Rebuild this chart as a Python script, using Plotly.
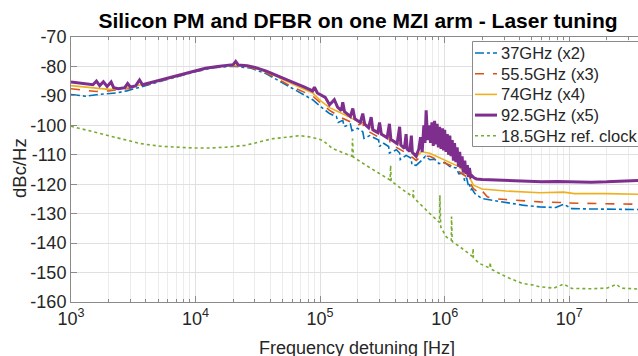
import plotly.graph_objects as go

# ---------------- data ----------------
f_37 = [1.0e3, 1.3e3, 1.6e3, 2.0e3, 2.3e3, 2.8e3, 3.5e3, 4.5e3, 6.2e3, 9.5e3, 1.4e4, 2.0e4, 2.8e4, 3.7e4,
        6.0e4, 8.7e4, 1.0e5, 1.1e5, 1.19e5, 1.35e5, 1.4e5, 1.52e5, 1.56e5, 1.75e5, 1.8e5, 2.0e5, 2.2e5, 2.25e5,
        2.5e5, 2.95e5, 3.0e5, 3.2e5, 3.55e5, 3.6e5, 4.1e5, 4.35e5, 4.4e5, 4.9e5, 5.4e5, 5.45e5, 5.9e5, 6.5e5,
        7.0e5, 7.6e5, 8.3e5, 9.0e5, 1.0e6, 1.1e6, 1.24e6, 1.3e6, 1.4e6, 1.45e6, 1.5e6, 1.55e6, 1.58e6, 1.62e6,
        1.65e6, 1.75e6, 2.0e6, 2.46e6, 3.1e6, 4.2e6, 5.8e6, 7.8e6, 9.0e6, 1.05e7, 1.5e7, 2.0e7, 2.8e7, 3.6e7]
v_37 = [-89.5, -90.1, -89.6, -89.2, -89.0, -88.3, -87.2, -85.9, -84.2, -82.0, -80.4, -79.9, -80.6, -82.5,
        -87.5, -91.3, -93.5, -94.8, -96.0, -97.0, -99.0, -98.3, -100.4, -99.6, -101.8, -101.0, -102.2, -104.4,
        -103.5, -105.0, -107.2, -106.0, -107.2, -109.4, -108.3, -109.4, -111.6, -110.2, -111.2, -113.4, -113.6, -112.0,
        -110.5, -111.7, -111.5, -113.0, -112.6, -114.0, -114.5, -116.5, -116.3, -119.0, -117.8, -120.5, -119.8, -122.0,
        -121.5, -123.2, -124.9, -125.5, -126.3, -127.1, -127.7, -127.9, -126.8, -128.3, -128.4, -128.4, -128.5, -128.6]

f_55 = [1.0e3, 1.3e3, 1.6e3, 2.0e3, 2.3e3, 2.8e3, 3.5e3, 4.5e3, 6.2e3, 9.5e3, 1.4e4, 2.0e4, 2.8e4, 3.7e4,
        6.0e4, 8.7e4, 1.0e5, 1.19e5, 1.5e5, 2.0e5, 2.2e5, 2.25e5, 2.5e5, 3.0e5, 3.6e5, 3.65e5, 4.1e5, 5.2e5,
        5.9e5, 6.5e5, 7.6e5, 9.0e5, 1.1e6, 1.3e6, 1.5e6, 1.6e6, 1.7e6, 2.0e6, 2.05e6, 2.2e6, 2.46e6, 3.1e6,
        4.2e6, 5.8e6, 8.5e6, 9.0e6, 1.0e7, 2.0e7, 3.6e7]
v_55 = [-87.6, -88.2, -88.5, -88.3, -88.1, -87.6, -86.7, -85.7, -84.0, -81.8, -80.2, -79.7, -80.4, -82.2,
        -87.0, -90.0, -92.3, -94.9, -97.5, -100.0, -99.0, -101.2, -102.3, -104.2, -104.0, -106.8, -107.5, -110.0,
        -111.9, -110.5, -110.5, -112.0, -113.5, -115.5, -117.5, -119.5, -121.5, -123.7, -122.8, -124.3, -124.9, -125.2,
        -125.7, -126.0, -126.2, -125.7, -126.4, -126.6, -126.8]

f_74 = [1.0e3, 1.3e3, 1.6e3, 2.0e3, 2.3e3, 2.8e3, 3.5e3, 4.5e3, 6.2e3, 9.5e3, 1.4e4, 2.0e4, 2.8e4, 3.7e4,
        6.0e4, 8.7e4, 1.0e5, 1.19e5, 1.5e5, 2.0e5, 2.5e5, 3.2e5, 4.1e5, 5.2e5, 5.9e5, 6.5e5, 7.6e5, 9.0e5,
        1.1e6, 1.3e6, 1.5e6, 1.6e6, 1.7e6, 2.0e6, 3.1e6, 5.8e6, 9.0e6, 1.1e7, 2.0e7, 3.6e7]
v_74 = [-86.5, -87.0, -87.4, -87.8, -87.7, -87.3, -86.4, -85.5, -84.0, -81.8, -80.2, -79.6, -80.2, -81.8,
        -86.0, -89.0, -91.5, -94.0, -96.0, -98.5, -100.6, -103.0, -105.8, -108.3, -110.7, -109.0, -109.5, -111.0,
        -112.5, -114.0, -116.5, -118.0, -120.3, -121.6, -122.3, -122.9, -122.7, -123.2, -123.2, -123.4]

f_92 = [1.0e3, 1.15e3, 1.32e3, 1.5e3, 1.6e3, 1.7e3, 1.82e3, 1.95e3, 2.1e3, 2.2e3, 2.4e3, 2.7e3, 2.85e3,
        3.0e3, 3.3e3, 3.55e3, 3.75e3, 4.5e3, 5.2e3, 6.2e3, 7.5e3, 9.5e3, 1.2e4, 1.5e4, 1.8e4, 2.0e4, 2.1e4,
        2.2e4, 2.6e4, 3.0e4, 3.7e4, 4.5e4, 6.0e4, 7.5e4, 8.7e4, 9.0e4, 9.5e4, 1.1e5, 1.19e5, 1.3e5, 1.38e5,
        1.48e5, 1.52e5, 1.57e5, 1.75e5, 1.83e5, 1.9e5, 2.1e5, 2.2e5, 2.28e5, 2.45e5, 2.57e5, 2.65e5, 2.9e5,
        3.0e5, 3.1e5, 3.45e5, 3.6e5, 3.7e5, 4.15e5, 4.35e5, 4.45e5, 4.75e5, 4.9e5, 5.0e5, 5.25e5, 5.4e5, 5.5e5,
        5.9e5, 6.2e5, 6.4e5, 6.6e5, 6.8e5, 6.95e5, 7.1e5, 7.3e5, 7.5e5, 7.7e5, 7.9e5, 8.1e5, 8.3e5, 8.5e5,
        8.7e5, 8.9e5, 9.1e5, 9.35e5, 9.6e5, 9.8e5, 1.0e6, 1.025e6, 1.05e6, 1.075e6, 1.1e6, 1.125e6, 1.15e6,
        1.175e6, 1.2e6, 1.23e6, 1.26e6, 1.29e6, 1.32e6, 1.35e6, 1.38e6, 1.41e6, 1.45e6, 1.48e6, 1.52e6, 1.55e6,
        1.58e6, 1.62e6, 1.66e6, 1.72e6, 1.8e6, 2.0e6, 2.5e6, 3.2e6, 4.5e6, 6.0e6, 8.0e6, 1.0e7, 1.5e7, 2.0e7,
        2.8e7, 3.6e7]
v_92 = [-85.3, -85.6, -85.9, -86.2, -85.0, -86.5, -85.2, -86.8, -85.3, -87.2, -87.6, -87.2, -85.8,
        -87.0, -86.6, -84.6, -86.2, -85.3, -84.7, -83.8, -82.8, -81.6, -80.6, -80.0, -79.6, -79.4, -78.3,
        -79.5, -79.8, -80.3, -81.6, -83.0, -85.3, -87.0, -88.3, -87.0, -89.0, -90.5, -93.0, -91.3, -93.8,
        -95.0, -92.2, -95.4, -97.0, -94.3, -97.8, -99.0, -96.0, -99.6, -100.8, -97.2, -101.5, -102.5,
        -99.0, -103.0, -104.2, -99.5, -104.8, -106.2, -100.5, -106.7, -107.8, -103.0, -108.1, -108.8, -103.5, -109.2,
        -110.5, -108.0, -104.0, -109.0, -100.0, -106.0, -94.9, -105.0, -100.0, -106.0, -99.0, -107.0, -98.5, -106.5,
        -99.5, -107.5, -100.5, -108.0, -101.0, -108.5, -101.5, -109.0, -103.0, -110.0, -103.5, -110.5, -105.0,
        -112.0, -106.0, -112.5, -107.5, -114.0, -109.0, -114.5, -110.5, -116.0, -112.0, -116.5, -113.5, -117.5,
        -114.5, -117.5, -117.2, -117.8, -118.2, -118.4, -118.6, -118.8, -119.0, -119.2, -119.1, -119.2, -119.3, -119.2,
        -119.0, -118.7]

f_ref = [1.0e3, 1.3e3, 1.7e3, 2.2e3, 2.8e3, 3.6e3, 5.2e3, 7.0e3, 9.6e3, 1.3e4, 1.77e4, 2.5e4, 3.3e4, 4.2e4,
         5.0e4, 6.8e4, 8.5e4, 1.05e5, 1.26e5, 1.5e5, 1.8e5, 1.82e5, 1.85e5, 2.34e5, 3.0e5, 3.65e5, 3.68e5,
         3.72e5, 4.35e5, 5.56e5, 5.6e5, 5.65e5, 7.57e5, 8.5e5, 9.1e5, 9.15e5, 9.3e5, 1.03e6, 1.13e6, 1.135e6,
         1.15e6, 1.32e6, 1.5e6, 1.68e6, 1.69e6, 1.7e6, 1.9e6, 2.02e6, 2.3e6, 2.32e6, 2.35e6, 2.76e6, 3.1e6,
         4.2e6, 5.1e6, 5.76e6, 7.5e6, 9.0e6, 1.05e7, 1.5e7, 2.0e7, 2.4e7, 2.6e7, 3.6e7]
v_ref = [-100.3, -101.5, -102.8, -104.0, -105.0, -106.2, -107.1, -107.5, -107.7, -107.7, -107.4, -106.8, -105.7, -104.5,
         -104.2, -103.5, -104.0, -105.1, -107.9, -109.3, -110.5, -104.5, -110.8, -113.6, -116.5, -118.6, -113.6,
         -118.9, -121.1, -124.3, -122.0, -124.6, -129.9, -132.0, -133.0, -123.7, -134.5, -137.9, -139.0, -131.0,
         -139.5, -141.2, -143.0, -144.6, -141.8, -145.0, -146.9, -147.5, -148.5, -146.5, -148.8, -150.3, -151.4,
         -153.7, -154.2, -154.8, -155.3, -153.9, -155.4, -155.5, -155.3, -154.0, -155.3, -155.6]

names = ["37GHz (x2)", "55.5GHz (x3)", "74GHz (x4)", "92.5GHz (x5)", "18.5GHz ref. clock"]
colors = ["#0072BD", "#D95319", "#EDB120", "#7E2F8E", "#77AC30"]
dashes = ["dashdot", "dash", "solid", "solid", "dot"]
widths = [1.6, 1.6, 1.6, 3.0, 1.6]

y_tickvals = [-160, -150, -140, -130, -120, -110, -100, -90, -80, -70]
y_ticktext = ["-160", "-150", "-140", "-130", "-120", "-110", "-100", "-90", "-80", "-70"]
x_tickvals = [1e3, 1e4, 1e5, 1e6, 1e7]
x_ticktext = ["10<sup>3</sup>", "10<sup>4</sup>", "10<sup>5</sup>", "10<sup>6</sup>", "10<sup>7</sup>"]

title = "Silicon PM and DFBR on one MZI arm - Laser tuning"
xlabel = "Frequency detuning [Hz]"
ylabel = "dBc/Hz"

# ---------------- figure ----------------
FONT = "Liberation Sans, Arial, Helvetica, sans-serif"
W, H = 638, 356
L, R, T, B = 71, 0, 37, 54
PW, PH = W - L - R, H - T - B


def px(x):  # pixel x -> paper x
    return (x - L) / PW


def py(y):  # pixel y -> paper y
    return (H - B - y) / PH


fig = go.Figure()
series = [(f_37, v_37), (f_55, v_55), (f_74, v_74), (f_92, v_92), (f_ref, v_ref)]
for (fx, vy), nm, c, d, w in zip(series, names, colors, dashes, widths):
    fig.add_trace(go.Scatter(x=fx, y=vy, mode="lines", name=nm, showlegend=False,
                             line=dict(color=c, dash=d, width=w)))

axis_col = "#8a8a8a"
fig.update_layout(
    width=W, height=H,
    margin=dict(l=L, r=R, t=T, b=B),
    paper_bgcolor="white", plot_bgcolor="white",
    font=dict(family=FONT, size=18, color="#262626"),
    title=dict(text=title, x=358 / W, xref="container", xanchor="center",
               y=1 - 21 / H, yref="container", yanchor="middle",
               font=dict(family=FONT, size=21, color="black", weight="bold")),
    showlegend=False,
)
fig.update_xaxes(type="log", range=[3, 7.552],
                 tickmode="array", tickvals=x_tickvals, ticktext=x_ticktext,
                 ticks="inside", ticklen=6, tickcolor=axis_col,
                 showline=True, linecolor=axis_col, linewidth=1, mirror="ticks",
                 showgrid=True, gridcolor="#e0e0e0", gridwidth=1,
                 minor=dict(dtick="D1", showgrid=True, gridcolor="#ececec",
                            ticks="inside", ticklen=3, tickcolor=axis_col),
                 zeroline=False, tickfont=dict(size=18))
fig.update_yaxes(range=[-160, -70], tickmode="array", tickvals=y_tickvals, ticktext=y_ticktext,
                 ticks="inside", ticklen=6, tickcolor=axis_col,
                 showline=True, linecolor=axis_col, linewidth=1,
                 showgrid=True, gridcolor="#e0e0e0", gridwidth=1,
                 zeroline=False, tickfont=dict(size=18))

# axis titles
fig.add_annotation(text=ylabel, xref="paper", yref="paper",
                   x=px(19), y=py(168), textangle=-90,
                   showarrow=False, xanchor="center", yanchor="middle",
                   font=dict(family=FONT, size=18.5, color="#262626"))
fig.add_annotation(text=xlabel, xref="paper", yref="paper",
                   x=px(357), y=py(347.5),
                   showarrow=False, xanchor="center", yanchor="middle",
                   font=dict(family=FONT, size=18, color="#262626"))

# legend box (right part falls outside the picture, as in the reference)
fig.add_shape(type="rect", xref="paper", yref="paper", layer="above",
              x0=px(472.5), x1=px(660), y0=py(146.5), y1=py(41.5),
              line=dict(color="#8a8a8a", width=1), fillcolor="white")
leg_y = [53.0, 73.7, 94.4, 115.1, 135.8]
for i, (nm, c, d, w) in enumerate(zip(names, colors, dashes, widths)):
    fig.add_shape(type="line", xref="paper", yref="paper", layer="above",
                  x0=px(475), x1=px(497), y0=py(leg_y[i]), y1=py(leg_y[i]),
                  line=dict(color=c, dash=d, width=w))
    fig.add_annotation(text=nm, xref="paper", yref="paper", x=px(499), y=py(leg_y[i]),
                       xanchor="left", yanchor="middle", showarrow=False,
                       font=dict(family=FONT, size=16.5, color="#262626"))

fig.write_html("out.html")
